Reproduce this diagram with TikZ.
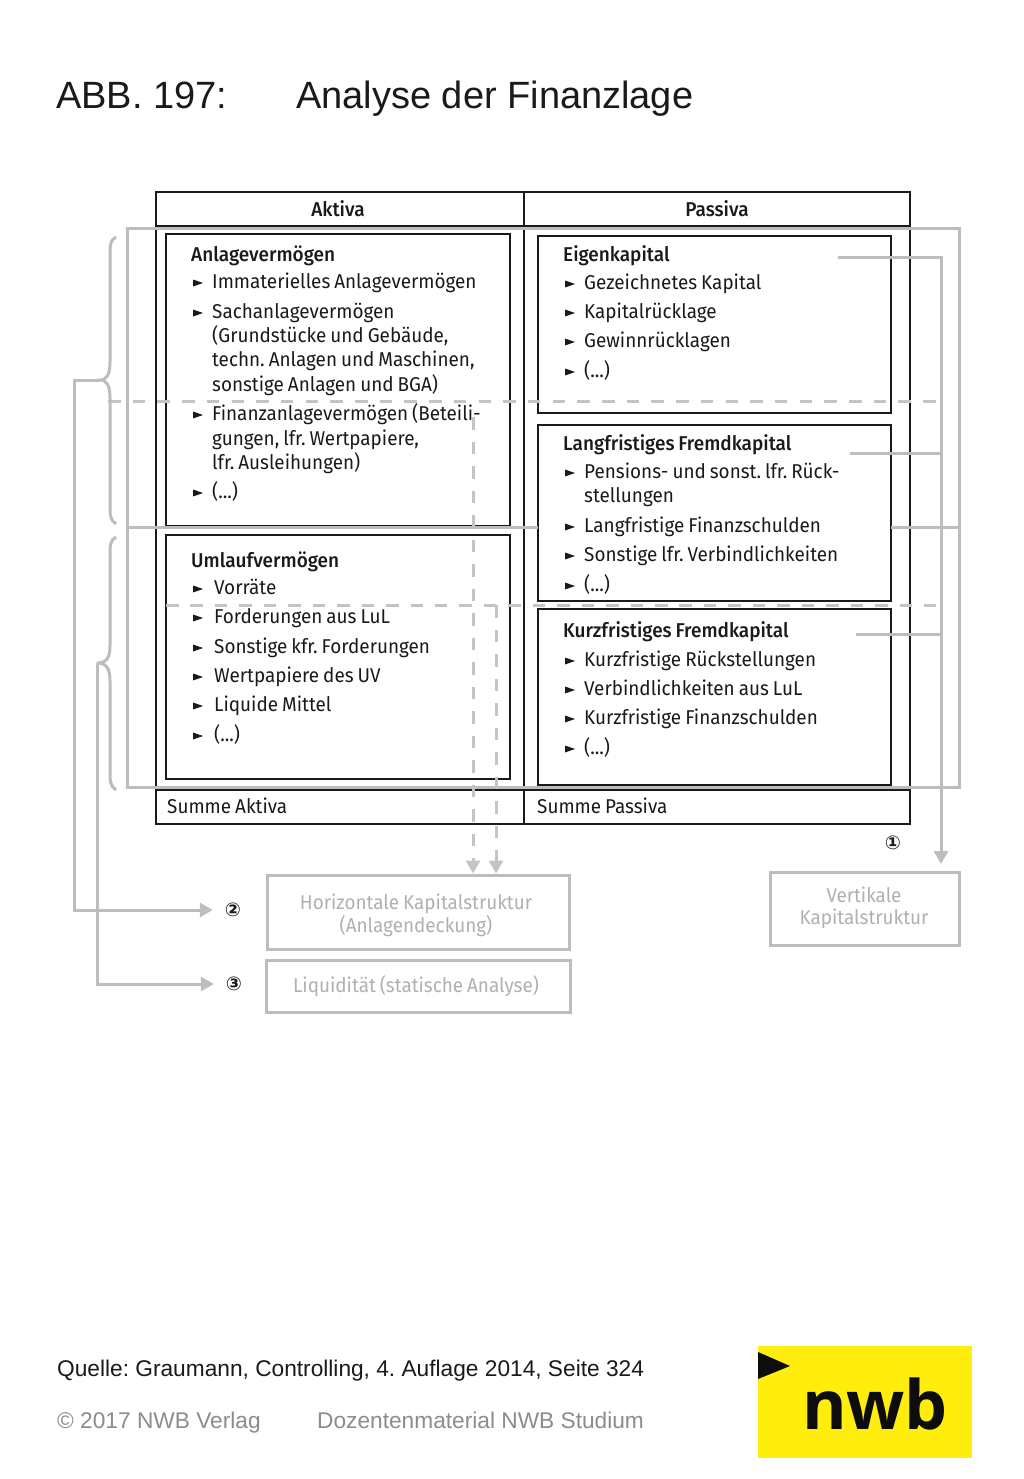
\documentclass[tikz,border=0pt]{standalone}
\usepackage{fontspec}
\setmainfont{Fira Sans}[FakeStretch=0.945,WordSpace=0.8,BoldFont={Fira Sans Medium},BoldFeatures={FakeStretch=0.95,WordSpace=0.8}]
\newfontfamily\arialf{Liberation Sans}
\newfontfamily\dejaf{DejaVu Sans}
\newfontfamily\logof{Open Sans}
\usetikzlibrary{arrows.meta,calc}
\definecolor{gl}{HTML}{BDBDBD}
\definecolor{gd}{HTML}{C4C4C4}
\definecolor{gt}{HTML}{B0B0B0}
\definecolor{ink}{HTML}{1A1A1A}
\definecolor{nwby}{HTML}{FFED0D}
\tikzset{
  txt/.style={anchor=base west,inner sep=0pt,text=ink,yshift=-0.5pt,font=\fontsize{20}{24}\selectfont},
  head/.style={txt,font=\fontsize{20}{24}\selectfont\bfseries},
  ctr/.style={anchor=base,inner sep=0pt,text=ink,yshift=-0.5pt,font=\fontsize{20}{24}\selectfont},
  gtxt/.style={anchor=base,inner sep=0pt,text=gt,font=\fontsize{20}{24}\selectfont},
  blackbox/.style={draw=ink,line width=2.7pt,inner sep=0pt,fill=white},
  graybox/.style={draw=gl,line width=3pt,inner sep=0pt,fill=white},
  outline/.style={draw=gl,line width=3pt,inner sep=0pt},
  gline/.style={draw=gl,line width=3pt},
  dline/.style={draw=gd,line width=3pt,dash pattern=on 12.5pt off 12pt},
  tip/.style={-{Triangle[width=14pt,length=13pt]}},
  num/.style={inner sep=0pt,text=ink,font=\dejaf\bfseries\fontsize{19}{22}\selectfont},
}
\newcommand{\bx}[6]{\node[#6,minimum width=#4pt-#2pt,minimum height=#5pt-#3pt] (#1) at ({(#2+#4)/2},{(#3+#5)/2}) {};}
\newcommand{\itm}[5]{\fill[ink] (#2,#4-8.5) -- (#2+10,#4-5) -- (#2,#4-1.5) -- cycle; \node[txt] (#1) at (#3,#4) {#5};}
\frenchspacing
\begin{document}
\frenchspacing
\begin{tikzpicture}[x=1pt,y=-1pt]
\useasboundingbox (0,0) rectangle (1024,1479);
\fill[white] (0,0) rectangle (1024,1479);
% title
\node[anchor=base west,inner sep=0pt,font=\arialf\fontsize{38}{44}\selectfont,text=ink] (t1) at (56,109) {ABB. 197:};
\node[anchor=base west,inner sep=0pt,font=\arialf\fontsize{38}{44}\selectfont,text=ink] (t2) at (296,109) {Analyse der Finanzlage};
% table
\bx{table}{156}{192}{910}{824}{blackbox}
\draw[ink,line width=2.7pt] (156,226) -- (910,226) (156,790) -- (910,790) (524,192) -- (524,824);
% boxes
\bx{av}{166}{234}{510}{526}{blackbox}
\bx{uv}{166}{535}{510}{779}{blackbox}
\bx{ek}{538}{236}{891}{413}{blackbox}
\bx{lf}{538}{425}{891}{601}{blackbox}
\bx{kf}{538}{609}{891}{785}{blackbox}
% gray outline
\bx{frame}{127}{229}{959}{787}{outline}
\coordinate (m1) at (127,527); \coordinate (m2) at (538,527);
\coordinate (m3) at (891,527); \coordinate (m4) at (959,527);
\draw[gline] (m1) -- (m2) (m3) -- (m4);
% result boxes
\bx{hk}{267}{875}{569}{949}{graybox}
\bx{lq}{266}{960}{570}{1012}{graybox}
\bx{vk}{770}{872}{959}{945}{graybox}
% numbers
\node[num] (n1) at (893,843) {①};
\node[num] (n2) at (233,910) {②};
\node[num] (n3) at (234,984) {③};
% dashed
\coordinate (d1) at (108,401); \coordinate (d2) at (938,401);
\draw[dline,dash pattern=on 12.5pt off 12.2pt] (d1) -- (d2);
\coordinate (d3) at (166,605); \coordinate (d4) at (496,605); \coordinate (d5) at (938,605);
\draw[dline,dash pattern=on 12.5pt off 11.95pt] (d3) -- (d5);
\coordinate (d6) at (473,417); \coordinate (d7) at (496,605);
\draw[dline,tip] (d6) -- (d6 |- hk.north);
\draw[dline,tip] (d7) -- (d7 |- hk.north);
% right connector
\coordinate (r0) at (941,257); \coordinate (r1) at (941,864);
\coordinate (e1) at (838,257); \coordinate (e2) at (850,453); \coordinate (e3) at (856,634);
\draw[gline] (e2) -- (e2 -| r0);
\draw[gline] (e3) -- (e3 -| r0);
\draw[gline,tip] (e1) -- (r0) -- (r1);
% braces
\draw[gline] (116,237) .. controls (110,240) and (110,246) .. (110,256) -- (110,362) .. controls (110,374) and (107,380) .. (100,380) .. controls (107,380) and (110,386) .. (110,398) -- (110,505) .. controls (110,515) and (110,520) .. (116,524);
\draw[gline] (116,537) .. controls (110,540) and (110,546) .. (110,556) -- (110,646) .. controls (110,657) and (107,663) .. (97,663) .. controls (107,663) and (110,669) .. (110,681) -- (110,771) .. controls (110,781) and (110,786) .. (116,790);
\coordinate (b1) at (100,380); \coordinate (b1l) at (74,380);
\coordinate (b2) at (97,663);
\draw[gline,tip,shorten >=12pt] (b1) -- (b1l) |- (n2.west);
\draw[gline,tip,shorten >=12pt] (b2) |- (n3.west);
% table labels
\node[ctr,font=\fontsize{20}{24}\selectfont\bfseries] (la) at (338,216) {Aktiva};
\node[ctr,font=\fontsize{20}{24}\selectfont\bfseries] (lp) at (717,216) {Passiva};
\node[txt] (sa) at (167,813) {Summe Aktiva};
\node[txt] (sp) at (537,813) {Summe Passiva};
% Anlagevermoegen
\node[head] (h1) at (191,261) {Anlagevermögen};
\itm{a1}{193}{212}{288}{Immaterielles Anlagevermögen}
\itm{a2}{193}{212}{318}{Sachanlagevermögen}
\node[txt] (a2b) at (212,342) {(Grundstücke und Gebäude,};
\node[txt] (a2c) at (212,366) {techn. Anlagen und Maschinen,};
\node[txt] (a2d) at (212,391) {sonstige Anlagen und BGA)};
\itm{a3}{193}{212}{420}{Finanzanlagevermögen (Beteili-}
\node[txt] (a3b) at (212,445) {gungen, lfr. Wertpapiere,};
\node[txt] (a3c) at (212,469) {lfr. Ausleihungen)};
\itm{a4}{193}{212}{498}{(...)}
% Umlauf
\node[head] (h2) at (191,567) {Umlaufvermögen};
\itm{u1}{193}{214}{594}{Vorräte}
\itm{u2}{193}{214}{623}{Forderungen aus LuL}
\itm{u3}{193}{214}{653}{Sonstige kfr. Forderungen}
\itm{u4}{193}{214}{682}{Wertpapiere des UV}
\itm{u5}{193}{214}{711}{Liquide Mittel}
\itm{u6}{193}{214}{741}{(...)}
% Eigen
\node[head] (h3) at (563,261) {Eigenkapital};
\itm{e1t}{565}{584}{289}{Gezeichnetes Kapital}
\itm{e2t}{565}{584}{318}{Kapitalrücklage}
\itm{e3t}{565}{584}{347}{Gewinnrücklagen}
\itm{e4t}{565}{584}{377}{(...)}
% Lang
\node[head] (h4) at (563,450) {Langfristiges Fremdkapital};
\itm{l1}{565}{584}{478}{Pensions- und sonst. lfr. Rück-}
\node[txt] (l1b) at (584,502) {stellungen};
\itm{l2}{565}{584}{532}{Langfristige Finanzschulden}
\itm{l3}{565}{584}{561}{Sonstige lfr. Verbindlichkeiten}
\itm{l4}{565}{584}{591}{(...)}
% Kurz
\node[head] (h5) at (563,637) {Kurzfristiges Fremdkapital};
\itm{k1}{565}{584}{666}{Kurzfristige Rückstellungen}
\itm{k2}{565}{584}{695}{Verbindlichkeiten aus LuL}
\itm{k3}{565}{584}{724}{Kurzfristige Finanzschulden}
\itm{k4}{565}{584}{754}{(...)}
% result labels
\node[gtxt] (hk1) at (416,909) {Horizontale Kapitalstruktur};
\node[gtxt] (hk2) at (416,932) {(Anlagendeckung)};
\node[gtxt] (lq1) at (416,992) {Liquidität (statische Analyse)};
\node[gtxt] (vk1) at (864,902) {Vertikale};
\node[gtxt] (vk2) at (864,924) {Kapitalstruktur};
% footer
\node[anchor=base west,inner sep=0pt,font=\arialf\fontsize{22.7}{28}\selectfont,text=ink] (q) at (57,1376) {Quelle: Graumann, Controlling, 4. Auflage 2014, Seite 324};
\node[anchor=base west,inner sep=0pt,font=\arialf\fontsize{22.7}{28}\selectfont,text=black!45] (c1) at (57,1428) {© 2017 NWB Verlag};
\node[anchor=base west,inner sep=0pt,font=\arialf\fontsize{22.7}{28}\selectfont,text=black!45] (c2) at (317,1428) {Dozentenmaterial NWB Studium};
% logo
\fill[nwby] (758,1346) rectangle (972,1458);
\fill[black!95] (758,1352) -- (790,1366) -- (758,1379) -- cycle;
\node[anchor=base,inner sep=0pt,font=\logof\bfseries\fontsize{68}{76}\selectfont,text=black!95] (nwb) at (875,1429) {nwb};
\end{tikzpicture}
\end{document}
